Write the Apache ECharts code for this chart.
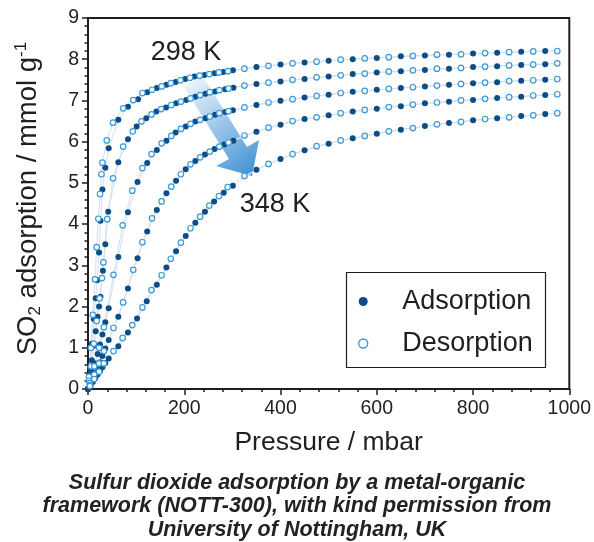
<!DOCTYPE html>
<html>
<head>
<meta charset="utf-8">
<script src="https://cdn.jsdelivr.net/npm/echarts@6/dist/echarts.min.js"></script>
<style>
  html, body { margin: 0; padding: 0; background: #fff; }
  #chart { width: 594px; height: 542px; }
</style>
</head>
<body>
<div id="chart"></div>
<script>
// [pressure (mbar), uptake (mmol/g)], one pair of arrays per temperature
const ads298 = [[0,0],[4,0.5],[8,1.1],[12,1.7],[16,2.2],[19,2.64],[23,3.31],[26,4.08],[30,4.84],[36,5.37],[43,5.84],[63,6.53],[83,6.85],[104,7.03],[123,7.20],[143,7.30],[163,7.38],[182,7.45],[202,7.52],[221,7.58],[242,7.62],[263,7.66],[281,7.69],[301,7.73],[350,7.81],[400,7.87],[450,7.92],[500,7.96],[550,8.00],[600,8.03],[650,8.07],[700,8.09],[750,8.11],[800,8.14],[850,8.16],[900,8.18],[950,8.20]];
const des298 = [[975,8.20],[925,8.19],[875,8.17],[825,8.15],[775,8.12],[725,8.11],[675,8.08],[625,8.05],[575,8.02],[525,7.99],[475,7.94],[425,7.90],[375,7.84],[325,7.77],[291,7.71],[272,7.68],[252,7.64],[232,7.60],[212,7.55],[192,7.49],[172,7.42],[153,7.34],[133,7.26],[113,7.18],[94,7.01],[73,6.81],[52,6.46],[39,6.03],[30,5.49],[28,5.21],[25,4.73],[21.5,4.13],[18,3.44],[14.5,2.66],[10,1.8],[6,1.0],[2,0.3]];

const ads308 = [[0,0],[4,0.35],[8,0.7],[12,1.05],[16,1.4],[20,1.75],[23,2.0],[26,2.24],[31,2.87],[36,3.51],[42,4.30],[63,5.50],[83,6.06],[101,6.37],[121,6.57],[142,6.73],[162,6.83],[183,6.93],[204,7.01],[223,7.09],[244,7.16],[264,7.22],[285,7.27],[302,7.31],[350,7.40],[400,7.46],[450,7.52],[500,7.58],[550,7.64],[600,7.68],[650,7.71],[700,7.74],[750,7.77],[800,7.81],[850,7.83],[900,7.86],[950,7.88]];
const des308 = [[975,7.90],[925,7.87],[875,7.85],[825,7.82],[775,7.79],[725,7.77],[675,7.73],[625,7.70],[575,7.65],[525,7.61],[475,7.56],[425,7.50],[375,7.43],[325,7.36],[292,7.29],[273,7.25],[253,7.20],[233,7.13],[213,7.05],[193,6.97],[173,6.89],[152,6.79],[132,6.66],[111,6.49],[93,6.25],[73,5.88],[52,5.11],[40,4.12],[32,3.07],[29,2.69],[24,2.2],[18,1.65],[12,1.1],[6,0.55],[2,0.2]];

const ads318 = [[0,0],[5,0.2],[10,0.4],[15,0.62],[20,0.85],[25,1.08],[30,1.32],[36,1.62],[43,1.96],[63,3.20],[83,4.29],[103,5.02],[123,5.48],[143,5.80],[163,6.02],[182,6.22],[203,6.37],[223,6.49],[244,6.57],[264,6.65],[285,6.72],[301,6.76],[350,6.89],[400,6.99],[450,7.07],[500,7.14],[550,7.21],[600,7.26],[650,7.30],[700,7.34],[750,7.38],[800,7.42],[850,7.44],[900,7.48],[950,7.50]];
const des318 = [[975,7.52],[925,7.49],[875,7.47],[825,7.43],[775,7.40],[725,7.36],[675,7.32],[625,7.28],[575,7.23],[525,7.18],[475,7.11],[425,7.03],[375,6.95],[325,6.83],[292,6.74],[273,6.69],[253,6.61],[233,6.53],[213,6.43],[193,6.31],[173,6.14],[153,5.96],[132,5.70],[113,5.36],[92,4.81],[72,3.97],[53,2.77],[33,1.50],[23,1.0],[13,0.55],[4,0.15]];

const ads333 = [[0,0],[5,0.12],[10,0.25],[15,0.38],[20,0.52],[25,0.65],[30,0.8],[36,0.98],[43,1.19],[63,1.75],[83,2.44],[103,3.17],[123,3.82],[143,4.34],[163,4.75],[183,5.05],[203,5.33],[223,5.53],[243,5.69],[263,5.82],[283,5.93],[302,6.02],[350,6.24],[400,6.41],[450,6.55],[500,6.64],[550,6.73],[600,6.80],[650,6.86],[700,6.93],[750,6.97],[800,7.01],[850,7.06],[900,7.09],[950,7.13]];
const des333 = [[975,7.15],[925,7.12],[875,7.08],[825,7.04],[775,7.00],[725,6.95],[675,6.90],[625,6.84],[575,6.77],[525,6.69],[475,6.59],[425,6.50],[375,6.34],[325,6.15],[292,5.98],[273,5.88],[253,5.76],[233,5.62],[213,5.45],[193,5.21],[173,4.91],[153,4.55],[133,4.14],[113,3.56],[94,2.89],[73,2.10],[53,1.48],[33,0.92],[23,0.62],[13,0.35],[4,0.1]];

const ads348 = [[0,0],[5,0.08],[10,0.17],[15,0.26],[20,0.35],[25,0.44],[30,0.53],[36,0.63],[43,0.74],[63,1.04],[83,1.37],[102,1.71],[122,2.13],[143,2.53],[163,2.95],[183,3.34],[203,3.71],[223,4.03],[243,4.30],[262,4.55],[282,4.76],[301,4.93],[350,5.32],[400,5.58],[450,5.79],[500,5.95],[550,6.08],[600,6.19],[650,6.29],[700,6.38],[750,6.45],[800,6.52],[850,6.57],[900,6.62],[950,6.67]];
const des348 = [[975,6.69],[925,6.64],[875,6.59],[825,6.55],[775,6.48],[725,6.42],[675,6.33],[625,6.25],[575,6.14],[525,6.03],[475,5.89],[425,5.70],[375,5.46],[325,5.17],[290,4.90],[272,4.68],[252,4.45],[233,4.18],[213,3.90],[193,3.55],[172,3.16],[153,2.76],[132,2.40],[113,1.98],[92,1.55],[72,1.24],[53,0.92],[33,0.62],[23,0.42],[13,0.24],[4,0.07]];

const adsSets = [ads298, ads308, ads318, ads333, ads348];
const desSets = [des298, des308, des318, des333, des348];

const xTicks = [0, 200, 400, 600, 800, 1000];
const yTicks = [0, 1, 2, 3, 4, 5, 6, 7, 8, 9];

const darkBlue = "#0a4d88";
const lightBlue = "#3b9ad9";
const lineCol = "#d3e0ee";
const ink = "#1f1f1f";
const font = "Liberation Sans";

const chart = echarts.init(document.getElementById("chart"));

let series = [];
// faint connecting lines first, under every marker
adsSets.concat(desSets).forEach((d) => {
  series.push({
    type: "line",
    data: d,
    clip: false,
    symbol: "none",
    silent: true,
    z: 1,
    lineStyle: { color: lineCol, width: 1 },
  });
});
adsSets.forEach((d) => {
  series.push({
    name: "Adsorption",
    type: "scatter",
    data: d,
    clip: false,
    symbol: "circle",
    symbolSize: 6,
    z: 3,
    itemStyle: { color: darkBlue, opacity: 1 },
    emphasis: { disabled: true },
  });
});
desSets.forEach((d) => {
  series.push({
    name: "Desorption",
    type: "scatter",
    data: d,
    clip: false,
    symbol: "circle",
    symbolSize: 5.5,
    z: 4,
    itemStyle: { color: "#fff", borderColor: lightBlue, borderWidth: 1.2, opacity: 1 },
    emphasis: { disabled: true },
  });
});

// block arrow 298 K -> 348 K
const arrowPts = [[202,75],[247,147],[259,140],[252,176],[216,166],[229,159],[184,87]];

let option = {
  animation: false,
  backgroundColor: "#fff",
  textStyle: { fontFamily: font, color: ink },
  grid: {
    left: 88,
    right: 23,
    top: 18,
    bottom: 153,
    show: true,
    borderColor: ink,
    borderWidth: 2,
    backgroundColor: "transparent",
  },
  legend: {
    data: [
      { name: "Adsorption", icon: "circle", itemStyle: { color: darkBlue, opacity: 1 } },
      { name: "Desorption", icon: "circle", itemStyle: { color: "#fff", borderColor: lightBlue, borderWidth: 1.4, opacity: 1 } },
    ],
    orient: "vertical",
    left: 358,
    top: 288,
    padding: 0,
    itemWidth: 68,
    itemHeight: 9,
    itemGap: 15,
    selectedMode: false,
    textStyle: { fontSize: 27, color: ink, fontFamily: font, lineHeight: 27 },
  },
  xAxis: {
    type: "value",
    min: 0,
    max: 1000,
    interval: 200,
    name: "Pressure / mbar",
    nameLocation: "middle",
    nameGap: 40,
    nameTextStyle: { fontSize: 26.5, color: ink, fontFamily: font },
    axisLine: { show: true, onZero: false, lineStyle: { color: ink, width: 2 } },
    axisTick: { show: true, inside: false, length: 6, lineStyle: { color: ink, width: 1.5 } },
    minorTick: { show: true, splitNumber: 5, length: 3, lineStyle: { color: ink, width: 1.5 } },
    splitLine: { show: false },
    axisLabel: {
      fontSize: 19.5,
      color: ink,
      margin: 10,
      formatter: (v) => (xTicks.includes(v) ? String(v) : ""),
    },
  },
  yAxis: {
    type: "value",
    min: 0,
    max: 9,
    interval: 1,
    name: "{n|SO}{sub|2}{n| adsorption / mmol g}{sup|-1}",
    nameLocation: "middle",
    nameGap: 44,
    nameTextStyle: {
      color: ink,
      fontFamily: font,
      padding: [0, 0, 0, 10],
      rich: {
        n: { fontSize: 27.5, lineHeight: 31, color: ink, fontFamily: font },
        sub: { fontSize: 17, lineHeight: 17, verticalAlign: "bottom", color: ink, fontFamily: font },
        sup: { fontSize: 17, lineHeight: 17, verticalAlign: "top", color: ink, fontFamily: font },
      },
    },
    axisLine: { show: true, onZero: false, lineStyle: { color: ink, width: 2 } },
    axisTick: { show: true, inside: false, length: 6, lineStyle: { color: ink, width: 1.5 } },
    minorTick: { show: true, splitNumber: 5, length: 3.5, lineStyle: { color: ink, width: 1.5 } },
    splitLine: { show: false },
    axisLabel: {
      fontSize: 19.5,
      color: ink,
      margin: 9,
      formatter: (v) => (yTicks.includes(v) ? String(v) : ""),
    },
  },
  graphic: [
    {
      type: "polygon",
      z: 1,
      shape: { points: arrowPts },
      style: {
        fill: new echarts.graphic.LinearGradient(0, 0, 1, 1, [
          { offset: 0, color: "rgba(70,150,215,0.04)" },
          { offset: 0.55, color: "rgba(70,150,215,0.6)" },
          { offset: 1, color: "rgba(55,140,210,1)" },
        ]),
      },
    },
    {
      type: "rect",
      z: 0,
      shape: { x: 346.5, y: 272.5, width: 199, height: 95 },
      style: { fill: "#fff", stroke: ink, lineWidth: 1.2 },
    },
    {
      type: "text",
      z: 10,
      x: 186,
      y: 53,
      style: { text: "298 K", fontSize: 27, fontFamily: font, fill: ink, textAlign: "center", textVerticalAlign: "middle" },
    },
    {
      type: "text",
      z: 10,
      x: 275,
      y: 205,
      style: { text: "348 K", fontSize: 27, fontFamily: font, fill: ink, textAlign: "center", textVerticalAlign: "middle" },
    },
    {
      type: "text",
      z: 10,
      x: 297,
      y: 471,
      style: {
        text: "Sulfur dioxide adsorption by a metal-organic\nframework (NOTT-300), with kind permission from\nUniversity of Nottingham, UK",
        fontSize: 21.5,
        fontWeight: "bold",
        fontStyle: "italic",
        fontFamily: font,
        lineHeight: 23.5,
        fill: "#222",
        textAlign: "center",
      },
    },
  ],
  series: series,
};

chart.setOption(option);
</script>
</body>
</html>
